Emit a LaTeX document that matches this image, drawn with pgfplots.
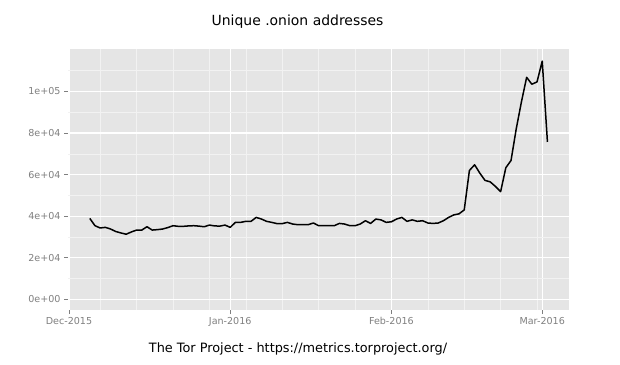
\documentclass[border=0pt]{standalone}
\usepackage{pgfplots}
\pgfplotsset{compat=1.18}
\usepackage{fontspec}
\setmainfont{DejaVu Sans}
\definecolor{panelbg}{HTML}{E5E5E5}
\definecolor{minorgrid}{HTML}{F2F2F2}
\definecolor{axgray}{HTML}{7F7F7F}
\begin{document}
\begin{tikzpicture}[x=1bp,y=1bp]
\path (0,0) rectangle (620,364);
\begin{axis}[
  at={(68bp,54bp)}, anchor=south west, scale only axis,
  width=501bp, height=261bp,
  xmin=-0.19, xmax=96.15, ymin=-5170, ymax=120440,
  axis background/.style={fill=panelbg},
  axis line style={draw=none},
  xtick={0,31,62,91}, xticklabels={Dec-2015,Jan-2016,Feb-2016,Mar-2016},
  minor xtick={6,13,20,27,34,41,48,55,69,76,83,90},
  ytick={0,20000,40000,60000,80000,100000},
  yticklabels={0e+00,2e+04,4e+04,6e+04,8e+04,1e+05},
  minor ytick={10000,30000,50000,70000,90000,110000},
  grid=both,
  major grid style={white, line width=1.1bp},
  minor grid style={minorgrid, line width=0.5bp},
  tick style={axgray, line width=0.5bp},
  major tick length=4bp, minor tick length=0bp,
  tick align=outside, tick pos=left,
  ticklabel style={font=\fontsize{9.6}{10}\selectfont, text=axgray},
  scaled y ticks=false,
  clip=false,
]
\addplot[black, line width=1.5bp, mark=none, line join=round] coordinates {
(4,38900) (5,35400) (6,34300) (7,34600) (8,33800) (9,32600) (10,31900)
(11,31300) (12,32400) (13,33300) (14,33300) (15,34900) (16,33300) (17,33500)
(18,33800) (19,34500) (20,35400) (21,35100) (22,35100) (23,35300) (24,35400)
(25,35200) (26,34900) (27,35700) (28,35300) (29,35200) (30,35700) (31,34600)
(32,37000) (33,37000) (34,37500) (35,37500) (36,39400) (37,38600) (38,37500)
(39,37000) (40,36400) (41,36400) (42,37000) (43,36200) (44,35900) (45,35900)
(46,35900) (47,36700) (48,35400) (49,35400) (50,35400) (51,35400) (52,36500)
(53,36200) (54,35400) (55,35400) (56,36200) (57,37800) (58,36500) (59,38600)
(60,38200) (61,37000) (62,37300) (63,38600) (64,39400) (65,37500) (66,38200)
(67,37500) (68,37800) (69,36700) (70,36500) (71,36700) (72,37800) (73,39400)
(74,40600) (75,41100) (76,43000) (77,62000) (78,64700) (79,60700) (80,57200)
(81,56500) (82,54300) (83,51800) (84,63300) (85,66800) (86,82000) (87,95000)
(88,106800) (89,103500) (90,104600) (91,114600) (92,75700)
};
\end{axis}
\node[anchor=base, font=\fontsize{14}{16}\selectfont] at (297.5,338.3) {Unique .onion addresses};
\node[anchor=base, font=\fontsize{12.9}{15}\selectfont] at (298,11.5) {The Tor Project - https://metrics.torproject.org/};
\end{tikzpicture}
\end{document}
